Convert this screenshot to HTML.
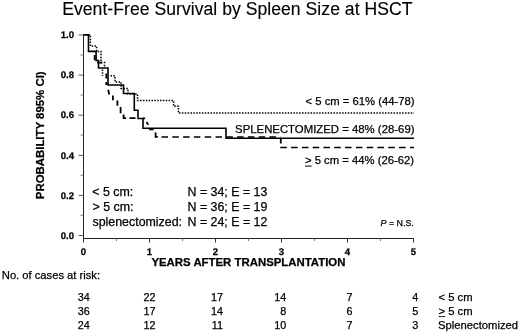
<!DOCTYPE html>
<html><head><meta charset="utf-8"><title>Event-Free Survival by Spleen Size at HSCT</title>
<style>
html,body{margin:0;padding:0;background:#fff;}
body{width:520px;height:333px;overflow:hidden;}
svg{display:block;font-family:"Liberation Sans",Arial,sans-serif;fill:#000;}
text{stroke:#000;stroke-width:0.25px;}
.b{font-weight:bold;}
</style></head><body>
<svg width="520" height="333" viewBox="0 0 520 333">
<rect width="520" height="333" fill="#fff"/>
<!-- title -->
<text x="62.2" y="15.2" font-size="17.6" style="stroke-width:0.12px;letter-spacing:0.03px">Event-Free Survival by Spleen Size at HSCT</text>

<!-- axes -->
<g stroke="#222" stroke-width="1" fill="none">
<path d="M83.5,34.5V238.5H414"/>
<!-- y major ticks -->
<path d="M78.6,35H83.5M78.6,75.1H83.5M78.6,115.2H83.5M78.6,155.4H83.5M78.6,195.4H83.5M78.6,235.5H83.5" stroke="#333" stroke-width="0.8"/>
<path d="M80.5,55H83.5M80.5,95H83.5M80.5,135.1H83.5M80.5,175.2H83.5M80.5,215.3H83.5" stroke="#777"/>
<!-- x ticks -->
<path d="M83.5,238.5V242.5M149.5,238.5V242.5M215.5,238.5V242.5M281.5,238.5V242.5M347.5,238.5V242.5M413.5,238.5V242.5" stroke="#333"/>
<path d="M116.5,238.5V241M182.5,238.5V241M248.5,238.5V241M314.5,238.5V241M380.5,238.5V241" stroke="#777"/>
</g>

<!-- y tick labels -->
<g class="b" font-size="9.6" text-anchor="end" style="text-rendering:geometricPrecision">
<text transform="translate(74,38.2)">1.0</text>
<text transform="translate(74,78.3)">0.8</text>
<text transform="translate(74,118.4)">0.6</text>
<text transform="translate(74,158.5)">0.4</text>
<text transform="translate(74,198.6)">0.2</text>
<text transform="translate(74,238.7)">0.0</text>
</g>
<!-- x tick labels -->
<g class="b" font-size="9.6" text-anchor="middle" style="text-rendering:geometricPrecision">
<text transform="translate(83.5,255.4)">0</text>
<text transform="translate(149.5,255.4)">1</text>
<text transform="translate(215.5,255.4)">2</text>
<text transform="translate(281.5,255.4)">3</text>
<text transform="translate(347.5,255.4)">4</text>
<text transform="translate(413.5,255.4)">5</text>
</g>
<text class="b" x="151.4" y="266.3" font-size="11.4">YEARS AFTER TRANSPLANTATION</text>
<text class="b" font-size="11.42" transform="translate(43.5,199.2) rotate(-90)">PROBABILITY 895% CI)</text>

<!-- curves -->
<g fill="none" stroke="#000" stroke-width="1.6">
<!-- dotted: < 5 cm -->
<g stroke-dasharray="1.5 1.36" stroke-width="1.5">
<path d="M88.5,34.9H90.4V46H96.6V51.5H101V62.5H104.5V68"/>
<path d="M102.5,69.5V76"/>
<path d="M110.5,75.7H115V82H121V88.5H128V94H137.5V100.5H173.6V106.3H178.4V113H414"/>
</g>
<!-- dashed: > 5 cm -->
<g stroke-width="1.8">
<path d="M94.7,55V60.3M97,62.6H102M106.3,73.5V78.5M106.3,82V85M108.2,89.8L109.2,94.5M112.9,95.6V100.2M117.4,100.6V105.8M120.6,107V113.3M123.6,114.5V118.2H126M129.5,118.2H135.5M143,118.4H145.2M146.5,122L148.3,124.7M149,129.4H153.6M155.6,132.6V136.8H157.8"/>
<path stroke-width="1.5" stroke-dasharray="6.5 4.3" d="M161.5,136.9H280.6"/>
<path d="M280.8,138V143.5"/>
<path stroke-width="1.5" stroke-dasharray="6.5 4.3" d="M280.3,147.5H414"/>
</g>
<!-- solid: splenectomized -->
<path d="M83.5,34.9H88.5V51.4H96.1V60.5H98.5V68H108V85H123.5V93.5H134.3V110.3H138V118.5H143V128.3H226V138.2H414"/>
</g>

<!-- curve labels -->
<g font-size="11.27">
<text x="414.5" y="105" text-anchor="end">&lt; 5 cm = 61% (44-78)</text>
<text x="414.5" y="132.7" text-anchor="end" font-size="11.36">SPLENECTOMIZED = 48% (28-69)</text>
<text x="305" y="163.9" xml:space="preserve">&gt; 5 cm = 44% (26-62)</text>
</g>
<path d="M305,166.1H311.6" stroke="#000" stroke-width="1"/>

<!-- legend -->
<g font-size="12.4">
<text x="92.3" y="196.2">&lt; 5 cm:</text><text x="187.5" y="196.2">N = 34; E = 13</text>
<text x="92.5" y="211.1">&gt; 5 cm:</text><text x="187.5" y="211.1">N = 36; E = 19</text>
<text x="92.5" y="225.6">splenectomized:</text><text x="187.5" y="225.6">N = 24; E = 12</text>
</g>
<text x="380.5" y="226.3" font-size="8.9"><tspan font-style="italic">P</tspan> = N.S.</text>

<!-- table -->
<text x="1.8" y="278.9" font-size="11.2">No. of cases at risk:</text>
<g font-size="10.8" text-anchor="end">
<text x="89.7" y="301.2">34</text><text x="155.6" y="301.2">22</text><text x="223" y="301.2">17</text><text x="286.2" y="301.2">14</text><text x="352.5" y="301.2">7</text><text x="418.3" y="301.2">4</text>
<text x="89.7" y="315">36</text><text x="155.6" y="315">17</text><text x="223" y="315">14</text><text x="286.2" y="315">8</text><text x="352.5" y="315">6</text><text x="418.3" y="315">5</text>
<text x="89.7" y="328.7">24</text><text x="155.6" y="328.7">12</text><text x="223" y="328.7">11</text><text x="286.2" y="328.7">10</text><text x="352.5" y="328.7">7</text><text x="418.3" y="328.7">3</text>
</g>
<g font-size="11.25">
<text x="438.5" y="301.2">&lt; 5 cm</text>
<text x="438.5" y="315">&gt; 5 cm</text>
<text x="438" y="328.7">Splenectomized</text>
</g>
<path d="M438.5,316.6H445.2" stroke="#111" stroke-width="0.9"/>
</svg>
</body></html>
